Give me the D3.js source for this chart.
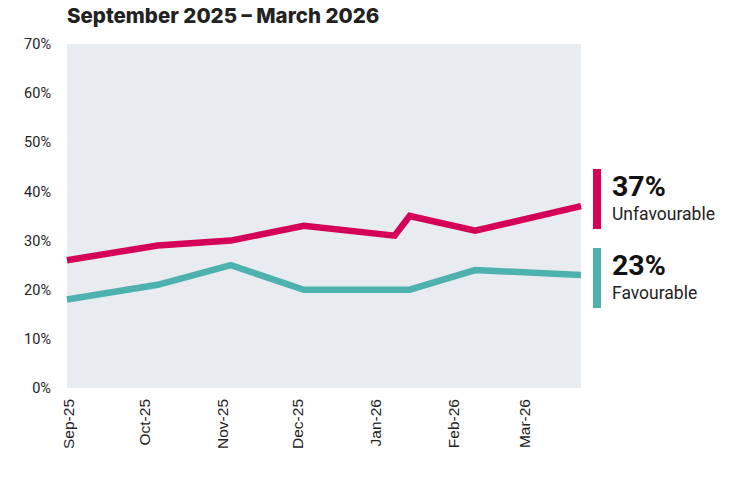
<!DOCTYPE html>
<html>
<head>
<meta charset="utf-8">
<script src="https://cdn.jsdelivr.net/npm/d3@7"></script>
<style>
body { margin: 0; background: #fff; }
</style>
</head>
<body>
<svg id="chart" width="731" height="484"></svg>
<script>
var parseDate = d3.timeParse("%Y-%m-%d");

var unfavDates = ["2025-09-01", "2025-10-07", "2025-11-05", "2025-12-04", "2026-01-09", "2026-01-15", "2026-02-10", "2026-03-24"];
var unfavValues = [26, 29, 30, 33, 31, 35, 32, 37];

var favDates = ["2025-09-01", "2025-10-07", "2025-11-05", "2025-12-04", "2026-01-15", "2026-02-10", "2026-03-24"];
var favValues = [18, 21, 25, 20, 20, 24, 23];

var monthTicks = ["2025-09-01", "2025-10-01", "2025-11-01", "2025-12-01", "2026-01-01", "2026-02-01", "2026-03-01"];
var yTicks = [0, 10, 20, 30, 40, 50, 60, 70];

var legendLabels = ["Unfavourable", "Favourable"];
var legendValues = [37, 23];
var legendColors = ["#d50057", "#4db1ae"];

var plotLeft = 67, plotRight = 581, plotTop = 44, plotBottom = 388;

var svg = d3.select("#chart");

var x = d3.scaleTime()
	.domain([parseDate("2025-09-01"), parseDate("2026-03-24")])
	.range([plotLeft, plotRight]);
var y = d3.scaleLinear()
	.domain([0, 70])
	.range([plotBottom, plotTop]);

svg.append("text")
	.attr("x", 67)
	.attr("y", 23)
	.attr("font-family", "Inter, Roboto, sans-serif")
	.attr("font-weight", "800")
	.attr("font-size", "20.5px")
	.attr("fill", "#222")
	.text("September 2025 \u2013 March 2026");

svg.append("rect")
	.attr("x", plotLeft)
	.attr("y", plotTop)
	.attr("width", plotRight - plotLeft)
	.attr("height", plotBottom - plotTop)
	.attr("fill", "#e8ebf0");

// y axis
var yAxis = svg.append("g")
	.attr("transform", "translate(" + plotLeft + ",0)")
	.call(d3.axisLeft(y).tickValues(yTicks).tickSize(0).tickPadding(16).tickFormat(function(d){ return d + "%"; }));
yAxis.select(".domain").remove();
yAxis.selectAll("text")
	.attr("font-family", "Roboto, sans-serif")
	.attr("font-size", "14.5px")
	.attr("fill", "#222");

// x axis
var xAxis = svg.append("g")
	.attr("transform", "translate(0," + plotBottom + ")")
	.call(d3.axisBottom(x).tickValues(monthTicks.map(parseDate)).tickSize(0).tickFormat(d3.timeFormat("%b-%y")));
xAxis.select(".domain").remove();
xAxis.selectAll("text")
	.attr("font-family", "'Liberation Sans', Arial, sans-serif")
	.attr("font-size", "15.5px")
	.attr("fill", "#222")
	.attr("text-anchor", "end")
	.attr("y", 0)
	.attr("dy", "0.35em")
	.attr("transform", "translate(1,11) rotate(-90)");

var line = d3.line()
	.x(function(d){ return x(d.date); })
	.y(function(d){ return y(d.value); });

var unfav = unfavDates.map(function(d, i){ return {date: parseDate(d), value: unfavValues[i]}; });
var fav = favDates.map(function(d, i){ return {date: parseDate(d), value: favValues[i]}; });

svg.append("path")
	.datum(fav)
	.attr("d", line)
	.attr("fill", "none")
	.attr("stroke", legendColors[1])
	.attr("stroke-width", 6.5);

svg.append("path")
	.datum(unfav)
	.attr("d", line)
	.attr("fill", "none")
	.attr("stroke", legendColors[0])
	.attr("stroke-width", 6.5);

// end labels
var legendY = [199, 278];
legendLabels.forEach(function(lab, i){
	var g = svg.append("g").attr("transform", "translate(593," + legendY[i] + ")");
	g.append("rect")
		.attr("x", 0)
		.attr("y", -30)
		.attr("width", 8)
		.attr("height", 60)
		.attr("fill", legendColors[i]);
	g.append("text")
		.attr("x", 19)
		.attr("y", -3)
		.attr("font-family", "Roboto, sans-serif")
		.attr("font-weight", "700")
		.attr("font-size", "28.5px")
		.attr("fill", "#111")
		.text(legendValues[i] + "%");
	g.append("text")
		.attr("x", 19)
		.attr("y", 21)
		.attr("font-family", "Roboto, sans-serif")
		.attr("font-size", "17.5px")
		.attr("fill", "#222")
		.text(lab);
});
</script>
</body>
</html>
